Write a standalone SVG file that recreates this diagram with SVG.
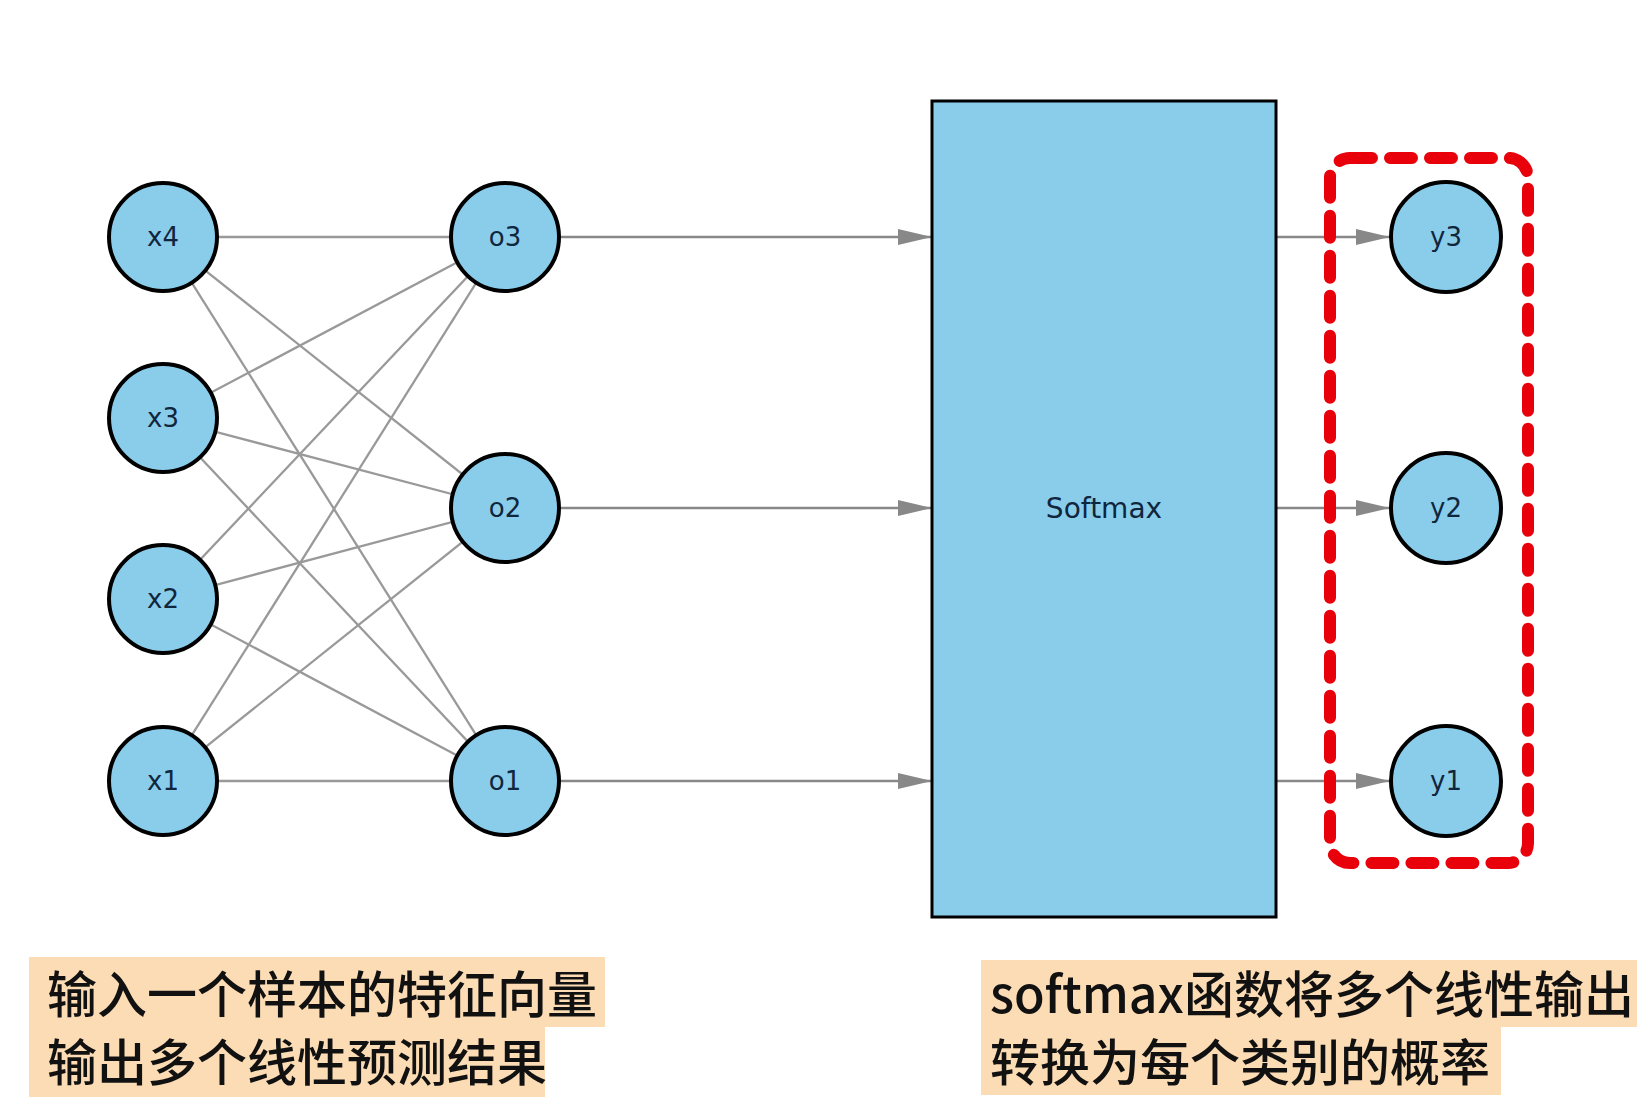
<svg xmlns="http://www.w3.org/2000/svg" width="1637" height="1119" viewBox="0 0 1637 1119">
<style>
.node circle{fill:#8acdeb;stroke:#000;stroke-width:4}
.lbl{font-family:"DejaVu Sans",Verdana,sans-serif;font-size:26px;fill:#10263d;text-anchor:middle}
.edge{stroke:#999;stroke-width:2.3;fill:none}
.arr{stroke:#888;stroke-width:2.6;fill:none;marker-end:url(#ah)}
.cap{font-family:"Noto Sans CJK SC","Noto Sans",sans-serif;font-size:50px;font-weight:500;fill:#111}
.bg{fill:#fcdcb4}
</style>
<defs>
<marker id="ah" markerUnits="userSpaceOnUse" markerWidth="36" markerHeight="18" refX="34" refY="8" orient="auto">
<path d="M0,0 L34,8 L0,16 z" fill="#888"/>
</marker>
</defs>
<rect width="1637" height="1119" fill="#fff"/>
<g id="connectors">
<line class="edge" x1="163" y1="237" x2="505" y2="237"/>
<line class="edge" x1="163" y1="237" x2="505" y2="508"/>
<line class="edge" x1="163" y1="237" x2="505" y2="781"/>
<line class="edge" x1="163" y1="418" x2="505" y2="237"/>
<line class="edge" x1="163" y1="418" x2="505" y2="508"/>
<line class="edge" x1="163" y1="418" x2="505" y2="781"/>
<line class="edge" x1="163" y1="599" x2="505" y2="237"/>
<line class="edge" x1="163" y1="599" x2="505" y2="508"/>
<line class="edge" x1="163" y1="599" x2="505" y2="781"/>
<line class="edge" x1="163" y1="781" x2="505" y2="237"/>
<line class="edge" x1="163" y1="781" x2="505" y2="508"/>
<line class="edge" x1="163" y1="781" x2="505" y2="781"/>
<line class="arr" x1="560" y1="237" x2="932" y2="237"/>
<line class="arr" x1="560" y1="508" x2="932" y2="508"/>
<line class="arr" x1="560" y1="781" x2="932" y2="781"/>
<line class="arr" x1="1276" y1="237" x2="1390" y2="237"/>
<line class="arr" x1="1276" y1="508" x2="1390" y2="508"/>
<line class="arr" x1="1276" y1="781" x2="1390" y2="781"/>
</g>
<g id="x4" class="node"><circle cx="163" cy="237" r="54"/><text class="lbl" x="163" y="246">x4</text></g>
<g id="x3" class="node"><circle cx="163" cy="418" r="54"/><text class="lbl" x="163" y="427">x3</text></g>
<g id="x2" class="node"><circle cx="163" cy="599" r="54"/><text class="lbl" x="163" y="608">x2</text></g>
<g id="x1" class="node"><circle cx="163" cy="781" r="54"/><text class="lbl" x="163" y="790">x1</text></g>
<g id="o3" class="node"><circle cx="505" cy="237" r="54"/><text class="lbl" x="505" y="246">o3</text></g>
<g id="o2" class="node"><circle cx="505" cy="508" r="54"/><text class="lbl" x="505" y="517">o2</text></g>
<g id="o1" class="node"><circle cx="505" cy="781" r="54"/><text class="lbl" x="505" y="790">o1</text></g>
<g id="softmax"><rect x="932" y="101" width="344" height="816" fill="#8acdeb" stroke="#000" stroke-width="3"/><text class="lbl" x="1104" y="518" style="font-size:28px">Softmax</text></g>
<g id="y3" class="node"><circle cx="1446" cy="237" r="55"/><text class="lbl" x="1446" y="246">y3</text></g>
<g id="y2" class="node"><circle cx="1446" cy="508" r="55"/><text class="lbl" x="1446" y="517">y2</text></g>
<g id="y1" class="node"><circle cx="1446" cy="781" r="55"/><text class="lbl" x="1446" y="790">y1</text></g>
<g id="highlight"><rect x="1330" y="158" width="198" height="705" rx="20" fill="none" stroke="#e8000a" stroke-width="12" stroke-dasharray="22 18" stroke-linecap="round"/></g>
<g id="caption-left">
<rect class="bg" x="29" y="957" width="576" height="70"/>
<rect class="bg" x="29" y="1026" width="516" height="71"/>
<text class="cap" x="47" y="1013">输入一个样本的特征向量</text>
<text class="cap" x="47" y="1081">输出多个线性预测结果</text>
</g>
<g id="caption-right">
<rect class="bg" x="981" y="960" width="656" height="67"/>
<rect class="bg" x="981" y="1026" width="520" height="69"/>
<text class="cap" x="990" y="1013">softmax函数将多个线性输出</text>
<text class="cap" x="990" y="1081">转换为每个类别的概率</text>
</g>
</svg>
